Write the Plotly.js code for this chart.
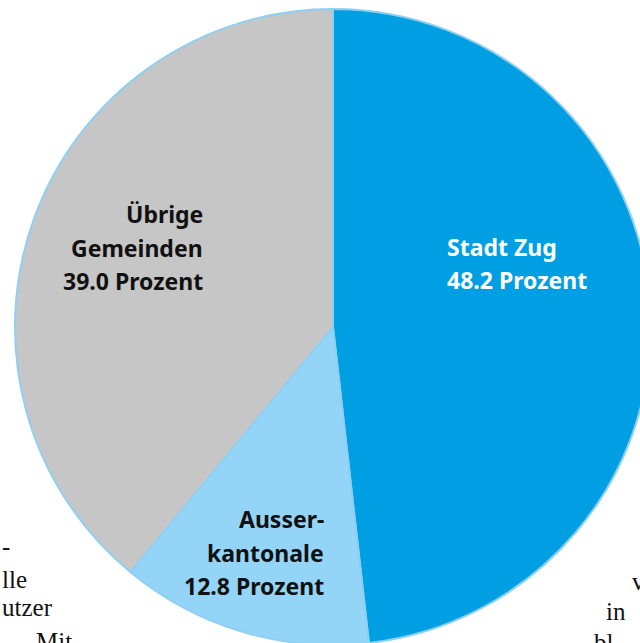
<!DOCTYPE html>
<html>
<head>
<meta charset="utf-8">
<script src="https://cdn.plot.ly/plotly-3.0.1.min.js"></script>
<style>
html,body{margin:0;padding:0;overflow:hidden;background:#fff;width:640px;height:643px;}
#chart{width:666px;height:654px;}
</style>
</head>
<body>
<div id="chart"></div>
<script>
const categories = ["Stadt Zug", "Ausserkantonale", "Übrige Gemeinden"];
const values = [48.2, 12.8, 39.0];
const labelLines = [
  ["Stadt Zug", "48.2 Prozent"],
  ["Ausser-", "kantonale", "12.8 Prozent"],
  ["Übrige", "Gemeinden", "39.0 Prozent"]
];
const colors = ["#009fe3", "#94d4f6", "#c6c6c6"];
const textColors = ["#ffffff", "#111111", "#111111"];

const W = 666, H = 654;
const cx = 333, cy = 327, R = 318;

// label anchor positions (pixels) and alignment
const labelPos = [
  {x: 445, y: 247, anchor: "left"},
  {x: 326, y: 519, anchor: "right"},
  {x: 205, y: 214, anchor: "right"}
];
const lineGap = 33.5;

const annotations = [];
labelLines.forEach((lines, i) => {
  lines.forEach((t, j) => {
    annotations.push({
      xref: "paper", yref: "paper",
      x: labelPos[i].x / W, y: 1 - (labelPos[i].y + j * lineGap) / H,
      xanchor: labelPos[i].anchor, yanchor: "middle",
      text: t, showarrow: false,
      font: {family: "Noto Sans, Open Sans, sans-serif", size: 23, weight: 700, color: textColors[i]}
    });
  });
});

// fragments of surrounding page text
const bgText = [
  {t: "-", x: 0, y: 546},
  {t: "lle", x: 0, y: 579},
  {t: "utzer", x: 0, y: 607},
  {t: "Mit", x: 34, y: 641},
  {t: "v", x: 630, y: 581},
  {t: "in", x: 604, y: 611},
  {t: "bl", x: 592, y: 642}
];
bgText.forEach(b => {
  annotations.push({
    xref: "paper", yref: "paper", x: b.x / W, y: 1 - b.y / H,
    xanchor: "left", yanchor: "middle", text: b.t, showarrow: false,
    font: {family: "Liberation Serif, serif", size: 25, color: "#111"}
  });
});

const trace = {
  type: "pie",
  labels: categories,
  values: values,
  sort: false,
  direction: "clockwise",
  rotation: 0,
  textinfo: "none",
  hoverinfo: "label+percent",
  marker: {colors: colors, line: {color: "#8fd0f2", width: 2}},
  domain: {x: [(cx - R) / W, (cx + R) / W], y: [1 - (cy + R) / H, 1 - (cy - R) / H]},
  showlegend: false
};

Plotly.newPlot("chart", [trace], {
  width: W, height: H,
  margin: {l: 0, r: 0, t: 0, b: 0, pad: 0},
  paper_bgcolor: "#ffffff",
  showlegend: false,
  annotations: annotations
}, {displayModeBar: false, staticPlot: true});
</script>
</body>
</html>
